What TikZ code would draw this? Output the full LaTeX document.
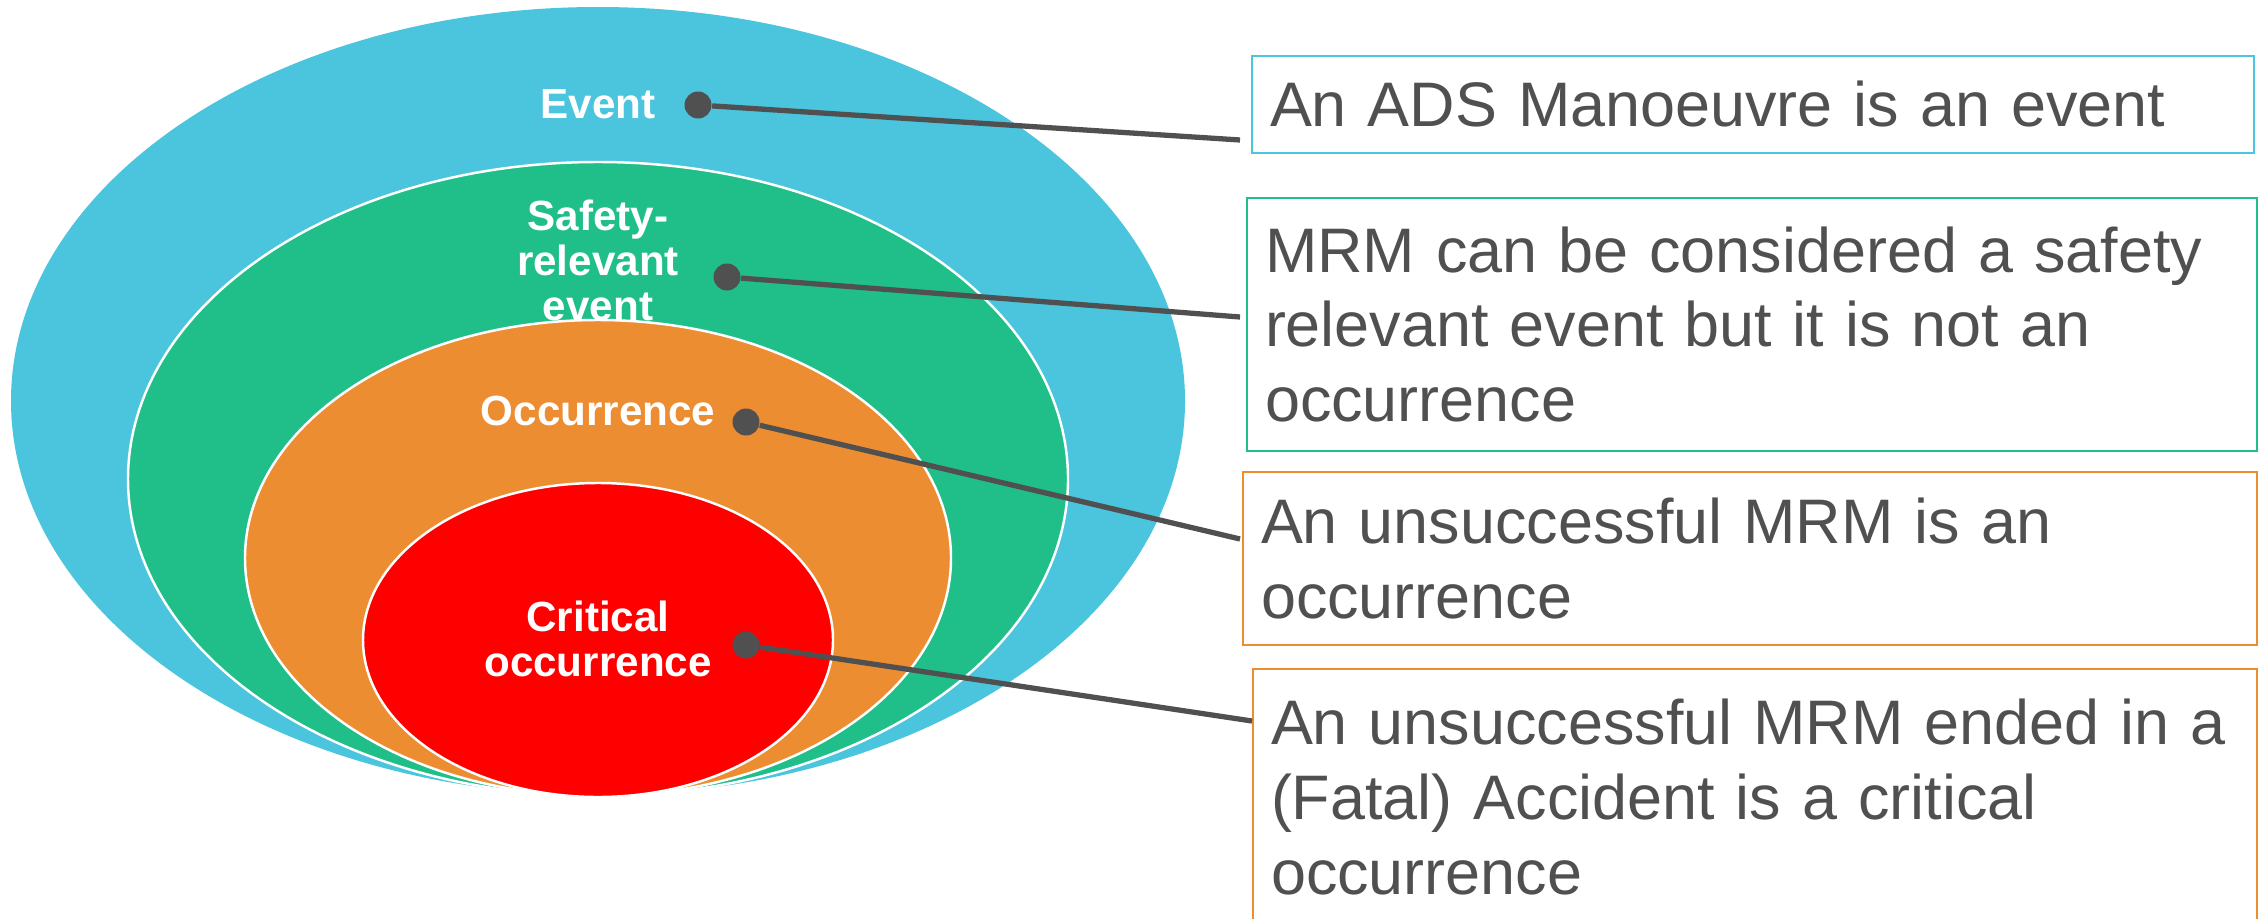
\documentclass[tikz,border=0pt]{standalone}
\usepackage{fontspec}
\setmainfont{Liberation Sans}

\definecolor{evblue}{RGB}{75,196,222}
\definecolor{evgreen}{RGB}{32,191,138}
\definecolor{evorange}{RGB}{237,141,50}
\definecolor{evred}{RGB}{255,0,0}
\definecolor{ink}{RGB}{80,80,80}

\begin{document}
\begin{tikzpicture}[
        ring/.style={draw=white, line width=0.7pt},
        tag/.style={text=white, align=center, font=\fontsize{12}{12.8}\selectfont\bfseries},
        dot/.style={circle, fill=ink, inner sep=0pt, minimum size=0.27cm},
        note/.style={rectangle, line width=0.8pt, text=ink, align=left, inner xsep=0.18cm, inner ysep=0pt, font=\fontsize{17.9}{21.3}\selectfont},
        leader/.style={draw=ink, line width=1.5pt},
    ]

    \useasboundingbox (0,0) rectangle (22.61,-9.18);
    \clip (0,0) rectangle (22.61,-9.18);

    \fill[evblue] (5.98,-4.01) ellipse [x radius=5.87, y radius=3.94];
    \filldraw[fill=evgreen, ring] (5.98,-4.79) ellipse [x radius=4.70, y radius=3.17];
    \filldraw[fill=evorange, ring] (5.98,-5.58) ellipse [x radius=3.53, y radius=2.38];
    \filldraw[fill=evred, ring] (5.98,-6.40) ellipse [x radius=2.35, y radius=1.57];

    \node[tag] (event) at (5.98,-1.04) {Event};
    \node[tag] (safety) at (5.98,-2.60) {Safety-\\relevant\\event};
    \node[tag] (occ) at (5.98,-4.11) {Occurrence};
    \node[tag] (crit) at (5.98,-6.39) {Critical\\occurrence};

    \node[dot] (d1) at (6.98,-1.05) {};
    \node[dot] (d2) at (7.27,-2.77) {};
    \node[dot] (d3) at (7.46,-4.22) {};
    \node[dot] (d4) at (7.46,-6.45) {};

    \node[note, draw=evblue, line width=0.6pt, text width=9.66cm, minimum height=0.97cm] (n1) at (17.53,-1.045)
        {An ADS Manoeuvre is an event};
    \node[note, draw=evgreen, text width=9.74cm, minimum height=2.53cm] (n2) at (17.52,-3.245)
        {MRM can be considered a safety\\relevant event but it is not an\\occurrence};
    \node[note, draw=evorange, text width=9.78cm, minimum height=1.73cm] (n3) at (17.50,-5.585)
        {An unsuccessful MRM is an\\occurrence};
    \node[note, draw=evorange, text width=9.68cm, minimum height=2.56cm] (n4) at (17.55,-7.97)
        {An unsuccessful MRM ended in a\\(Fatal) Accident is a critical\\occurrence};

    \coordinate (e1) at (12.40,-1.40);
    \coordinate (e2) at (12.40,-3.17);
    \coordinate (e3) at (12.40,-5.39);
    \coordinate (e4) at (12.52,-7.21);

    \path
    (d1) edge[leader] (e1)
    (d2) edge[leader] (e2)
    (d3) edge[leader] (e3)
    (d4) edge[leader] (e4)
    ;
\end{tikzpicture}
\end{document}
